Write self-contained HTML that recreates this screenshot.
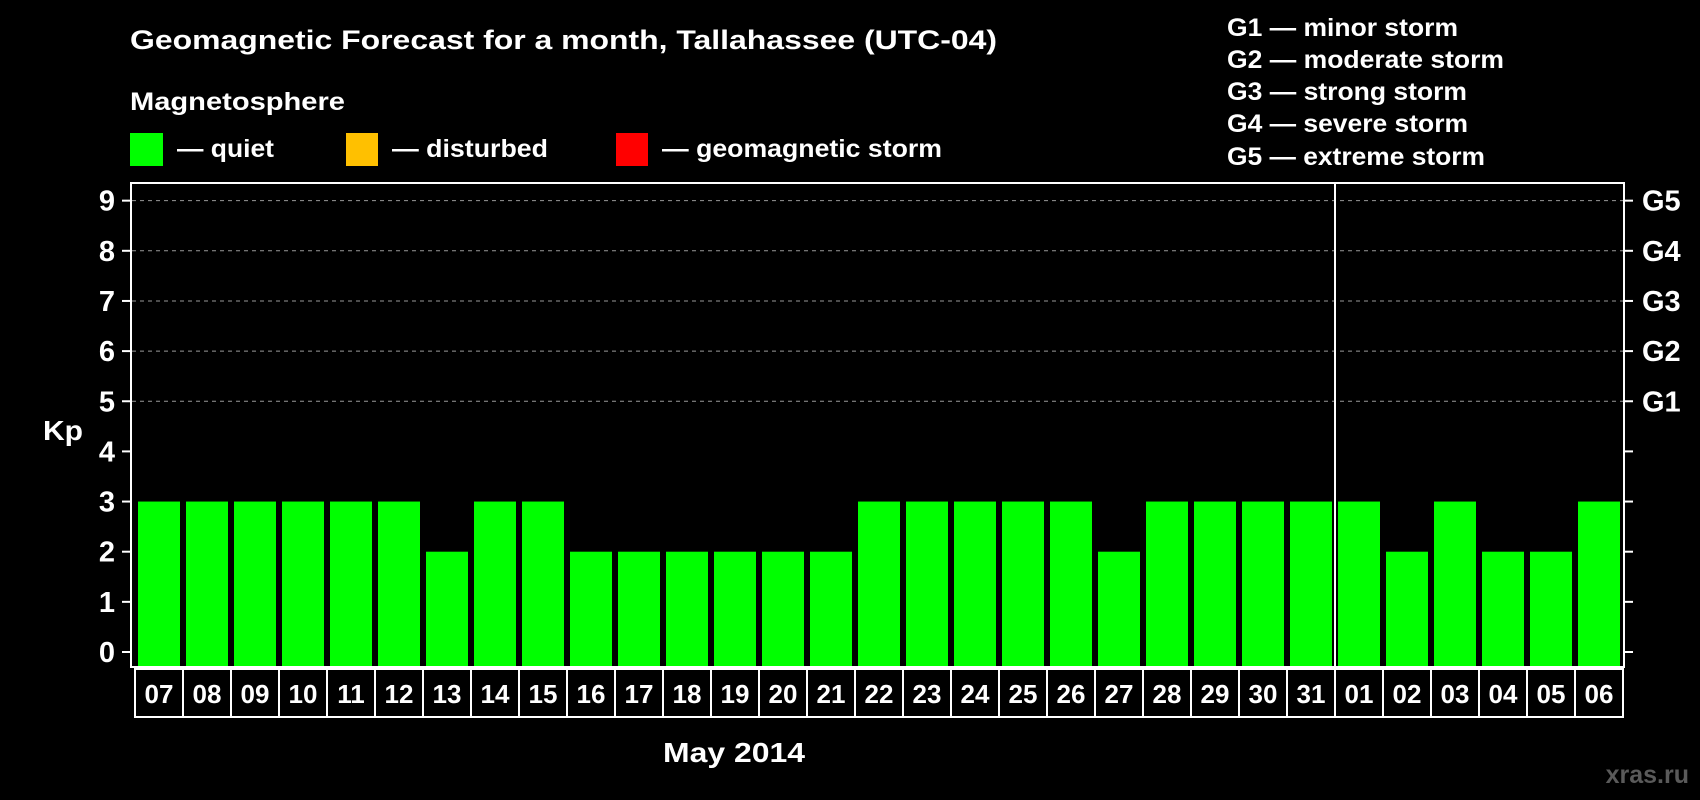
<!DOCTYPE html>
<html><head><meta charset="utf-8"><style>
html,body{margin:0;padding:0;background:#000;}
svg{display:block;font-family:"Liberation Sans",Arial,sans-serif;font-weight:bold;}
</style></head><body>
<svg width="1700" height="800" viewBox="0 0 1700 800">
<text x="130" y="49" fill="#fff" font-size="27" textLength="867" lengthAdjust="spacingAndGlyphs">Geomagnetic Forecast for a month, Tallahassee (UTC-04)</text>
<text x="130" y="110" fill="#fff" font-size="25" textLength="215" lengthAdjust="spacingAndGlyphs">Magnetosphere</text>
<g><rect x="130" y="133" width="33" height="33" fill="#00ff00"/><text x="177" y="157" fill="#fff" font-size="25" textLength="97" lengthAdjust="spacingAndGlyphs">— quiet</text></g>
<g><rect x="346" y="133" width="32" height="33" fill="#ffc000"/><text x="392" y="157" fill="#fff" font-size="25" textLength="156" lengthAdjust="spacingAndGlyphs">— disturbed</text></g>
<g><rect x="616" y="133" width="32" height="33" fill="#ff0000"/><text x="662" y="157" fill="#fff" font-size="25" textLength="280" lengthAdjust="spacingAndGlyphs">— geomagnetic storm</text></g>
<g fill="#fff" font-size="25">
<text x="1227" y="36" textLength="231" lengthAdjust="spacingAndGlyphs">G1 — minor storm</text>
<text x="1227" y="68" textLength="277" lengthAdjust="spacingAndGlyphs">G2 — moderate storm</text>
<text x="1227" y="100" textLength="240" lengthAdjust="spacingAndGlyphs">G3 — strong storm</text>
<text x="1227" y="132" textLength="241" lengthAdjust="spacingAndGlyphs">G4 — severe storm</text>
<text x="1227" y="165" textLength="258" lengthAdjust="spacingAndGlyphs">G5 — extreme storm</text>
</g>
<text x="43" y="440" fill="#fff" font-size="28" textLength="40" lengthAdjust="spacingAndGlyphs">Kp</text>
<g id="grid"></g><g id="bars"></g>
<rect x="131" y="183" width="1493" height="484" fill="none" stroke="#fff" stroke-width="2"/>
<line x1="1335" y1="183" x2="1335" y2="667" stroke="#fff" stroke-width="2"/>
<g id="axes"></g>
<text x="734" y="762" fill="#fff" font-size="28" text-anchor="middle" textLength="142" lengthAdjust="spacingAndGlyphs">May 2014</text>
<text x="1689" y="783" fill="#5a5a5a" font-size="25" text-anchor="end">xras.ru</text>
</svg>
<script>
const days=["07","08","09","10","11","12","13","14","15","16","17","18","19","20","21","22","23","24","25","26","27","28","29","30","31","01","02","03","04","05","06"];
const kpValues=[3,3,3,3,3,3,2,3,3,2,2,2,2,2,2,3,3,3,3,3,2,3,3,3,3,3,2,3,2,2,3];
const yTicks=[0,1,2,3,4,5,6,7,8,9];
const gLabels=["G1","G2","G3","G4","G5"];
const NS="http://www.w3.org/2000/svg";
const y=v=>652-v*50.15;
const x=i=>135+i*48;
const BOTTOM=667;
function mk(t,a,p){const e=document.createElementNS(NS,t);for(const k in a)e.setAttribute(k,a[k]);p.appendChild(e);return e;}
const grid=document.getElementById('grid'),bars=document.getElementById('bars'),axes=document.getElementById('axes');
yTicks.forEach(v=>{
  if(v>=5){const g=mk('line',{x1:132,x2:1623,y1:y(v),y2:y(v),stroke:'#999','stroke-dasharray':'4,4','stroke-width':1},grid);
  
  }
  const t=mk('line',{x1:122,x2:131,y1:y(v),y2:y(v),stroke:'#fff','stroke-width':2},axes);
  
  
  const t2=mk('line',{x1:1624,x2:1633,y1:y(v),y2:y(v),stroke:'#fff','stroke-width':2},axes);
  
  
  const l=mk('text',{x:115,y:y(v)+10,fill:'#fff','font-size':29,'text-anchor':'end'},axes);l.textContent=v;
  
  
});
gLabels.forEach((g,i)=>{
  const l=mk('text',{x:1642,y:y(5+i)+10,fill:'#fff','font-size':29},axes);l.textContent=g;
  
  
});
days.forEach((d,i)=>{
  const v=kpValues[i];
  const b=mk('rect',{x:x(i)+3,y:y(v),width:42,height:BOTTOM-1-y(v),fill:v>=5?'#ff0000':(v>=4?'#ffc000':'#00ff00')},bars);
  
  
  const r=mk('rect',{x:x(i),y:669,width:48,height:48,fill:'none',stroke:'#fff','stroke-width':2},axes);
  
  
  const t=mk('text',{x:x(i)+24,y:703,fill:'#fff','font-size':26,'text-anchor':'middle'},axes);t.textContent=d;
  
  
});
</script>
</body></html>
